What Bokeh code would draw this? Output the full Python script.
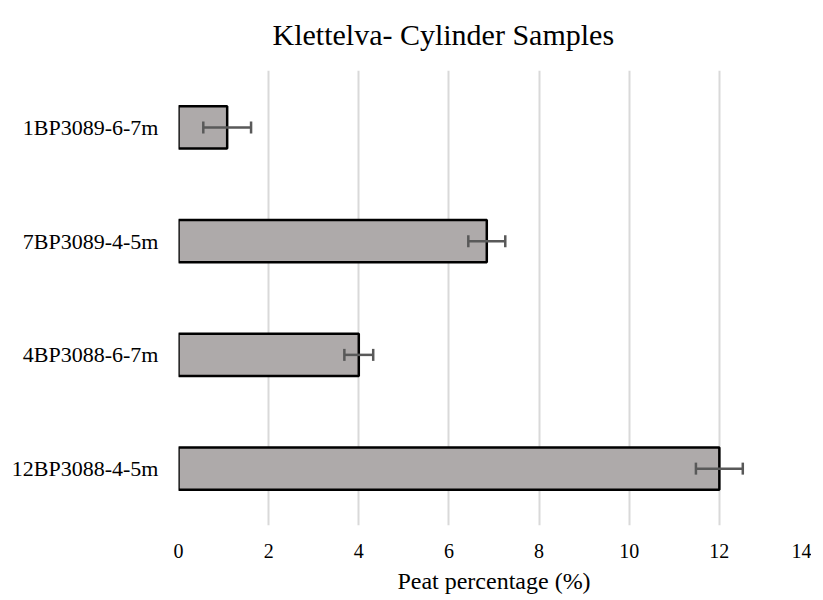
from bokeh.plotting import figure
from bokeh.models import ColumnDataSource, FactorRange, Range1d, Whisker, TeeHead, FixedTicker
from bokeh.embed import file_html
from bokeh.resources import INLINE

samples = ["12BP3088-4-5m", "4BP3088-6-7m", "7BP3089-4-5m", "1BP3089-6-7m"]
peat = [12.0, 4.0, 6.84, 1.08]
err = [0.52, 0.32, 0.41, 0.53]
x_ticks = [0, 2, 4, 6, 8, 10, 12, 14]

src = ColumnDataSource(data=dict(
    cat=samples, val=peat,
    lo=[v - e for v, e in zip(peat, err)],
    hi=[v + e for v, e in zip(peat, err)],
))

FONT = "Liberation Serif"

p = figure(width=811, height=596, y_range=FactorRange(*samples), x_range=Range1d(0, 14),
           output_backend="svg", toolbar_location=None,
           title="Klettelva- Cylinder Samples",
           min_border_left=178, min_border_right=2, min_border_top=69, min_border_bottom=71)

p.title.text_font = FONT
p.title.text_font_size = "30px"
p.title.text_font_style = "normal"
p.title.align = "left"
p.title.offset = 94
p.title.text_color = "#000000"
p.title.vertical_align = "top"
p.title.standoff = 35

p.hbar(y="cat", right="val", left=0, height=0.37, source=src,
       fill_color="#AEAAAA", line_color="#000000", line_width=2.5)

w = Whisker(source=src, base="cat", lower="lo", upper="hi", dimension="width",
            line_color="#595959", line_width=2.5, level="overlay",
            upper_head=TeeHead(size=12, line_color="#595959", line_width=2.5),
            lower_head=TeeHead(size=12, line_color="#595959", line_width=2.5))
p.add_layout(w)

p.xaxis.ticker = FixedTicker(ticks=x_ticks)
p.xaxis.axis_label = "Peat percentage (%)"
p.xaxis.axis_label_text_font = FONT
p.xaxis.axis_label_text_font_size = "24px"
p.xaxis.axis_label_text_font_style = "normal"
p.xaxis.axis_label_text_color = "#000000"
p.xaxis.axis_label_standoff = 7
for ax in (p.xaxis, p.yaxis):
    ax.major_label_text_font = FONT
    ax.major_label_text_color = "#000000"
    ax.axis_line_color = None
    ax.major_tick_line_color = None
    ax.minor_tick_line_color = None
p.xaxis.major_label_text_font_size = "20px"
p.yaxis.major_label_text_font_size = "22px"
p.xaxis.major_label_standoff = 12
p.yaxis.major_label_standoff = 14

p.xgrid.grid_line_color = "#D9D9D9"
p.xgrid.grid_line_width = 2
p.ygrid.grid_line_color = None
p.outline_line_color = None
p.y_range.range_padding = 0

open("out.html", "w").write(file_html(p, INLINE))
